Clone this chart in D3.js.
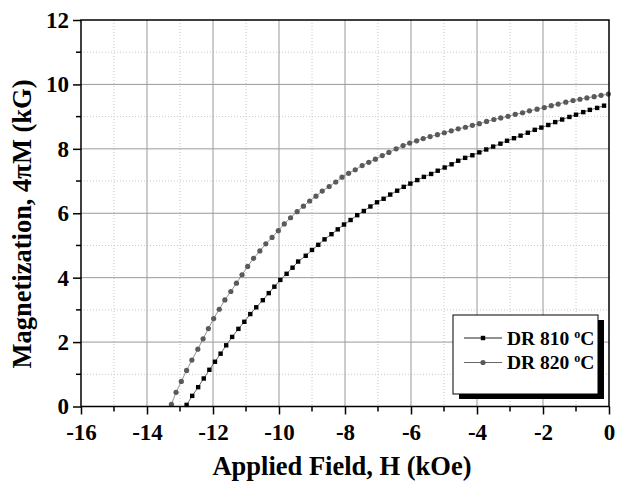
<!DOCTYPE html>
<html>
<head>
<meta charset="utf-8">
<script src="https://cdn.jsdelivr.net/npm/d3@7"></script>
<style>
  body { margin: 0; background: #fff; }
  svg { display: block; font-family: "Liberation Serif", "Times New Roman", serif; }
  svg text { font-weight: bold; }
</style>
</head>
<body>
<svg id="chart"></svg>
<script>
// DR 810 C (squares)
const h810 = [-12.80,-12.63,-12.45,-12.28,-12.11,-11.94,-11.77,-11.60,-11.42,-11.23,-11.05,-10.87,-10.69,-10.49,-10.31,-10.14,-9.96,-9.77,-9.59,-9.42,-9.19,-9.00,-8.81,-8.62,-8.41,-8.22,-8.03,-7.83,-7.63,-7.43,-7.23,-7.03,-6.83,-6.63,-6.42,-6.22,-6.02,-5.81,-5.61,-5.39,-5.19,-4.98,-4.77,-4.57,-4.36,-4.14,-3.93,-3.72,-3.51,-3.29,-3.09,-2.88,-2.68,-2.46,-2.25,-2.05,-1.84,-1.63,-1.42,-1.20,-1.00,-0.78,-0.58,-0.36,-0.15];
const m810 = [0.05,0.33,0.60,0.87,1.14,1.39,1.64,1.90,2.16,2.41,2.63,2.87,3.08,3.30,3.52,3.72,3.93,4.12,4.31,4.50,4.68,4.86,5.02,5.19,5.35,5.50,5.65,5.79,5.94,6.07,6.21,6.34,6.45,6.58,6.70,6.82,6.92,7.03,7.13,7.22,7.32,7.42,7.52,7.63,7.72,7.80,7.89,7.98,8.07,8.16,8.25,8.33,8.41,8.50,8.59,8.66,8.74,8.83,8.91,8.99,9.06,9.14,9.21,9.27,9.34];

// DR 820 C (circles)
const h820 = [-13.26,-13.12,-12.96,-12.80,-12.64,-12.46,-12.30,-12.14,-11.98,-11.81,-11.64,-11.46,-11.29,-11.12,-10.95,-10.77,-10.58,-10.40,-10.21,-10.02,-9.84,-9.65,-9.45,-9.26,-9.07,-8.88,-8.69,-8.48,-8.28,-8.09,-7.89,-7.69,-7.48,-7.28,-7.08,-6.87,-6.67,-6.45,-6.24,-6.04,-5.83,-5.63,-5.42,-5.20,-4.99,-4.78,-4.57,-4.35,-4.14,-3.93,-3.71,-3.49,-3.28,-3.06,-2.84,-2.62,-2.41,-2.18,-1.96,-1.75,-1.54,-1.31,-1.09,-0.88,-0.67,-0.45,-0.24,-0.02];
const m820 = [0.07,0.44,0.78,1.12,1.44,1.78,2.10,2.42,2.73,3.02,3.31,3.57,3.83,4.09,4.35,4.60,4.83,5.05,5.25,5.46,5.67,5.86,6.05,6.22,6.38,6.53,6.69,6.83,6.97,7.12,7.24,7.35,7.48,7.58,7.68,7.79,7.89,8.00,8.10,8.18,8.25,8.32,8.38,8.44,8.50,8.56,8.62,8.67,8.73,8.78,8.85,8.91,8.96,9.01,9.07,9.12,9.18,9.23,9.28,9.34,9.39,9.45,9.50,9.54,9.58,9.62,9.66,9.70];

const xTicks = [-16,-14,-12,-10,-8,-6,-4,-2,0];
const yTicks = [0,2,4,6,8,10,12];
const seriesNames = ['DR 810', 'DR 820'];

class MagChart {

  constructor(_config) {
    this.config = {
      parentElement: _config.parentElement,
      containerWidth: _config.containerWidth || 618,
      containerHeight: _config.containerHeight || 486,
      margin: { top: 20, bottom: 79.5, right: 9, left: 81 }
    }
    this.initVis();
  }

  initVis() {
    let vis = this;

    vis.width = vis.config.containerWidth - vis.config.margin.left - vis.config.margin.right;
    vis.height = vis.config.containerHeight - vis.config.margin.top - vis.config.margin.bottom;

    vis.svg = d3.select(vis.config.parentElement)
      .attr('width', vis.config.containerWidth)
      .attr('height', vis.config.containerHeight);

    vis.chart = vis.svg.append('g')
      .attr('transform', `translate(${vis.config.margin.left}, ${vis.config.margin.top})`);

    vis.xScale = d3.scaleLinear().domain([-16, 0]).range([0, vis.width]);
    vis.yScale = d3.scaleLinear().domain([0, 12]).range([vis.height, 0]);

    vis.renderGrid();
    vis.renderSeries();
    vis.renderAxes();
    vis.renderLegend();
  }

  renderGrid() {
    let vis = this;
    const minorX = d3.range(-15, 0, 2);
    const minorY = d3.range(1, 12, 2);

    // dotted minor grid
    vis.chart.append('g').selectAll('line').data(minorX).join('line')
      .attr('x1', d => vis.xScale(d)).attr('x2', d => vis.xScale(d))
      .attr('y1', 0).attr('y2', vis.height)
      .attr('stroke', '#c8c8c8').attr('stroke-width', 1).attr('stroke-dasharray', '1,2');
    vis.chart.append('g').selectAll('line').data(minorY).join('line')
      .attr('y1', d => vis.yScale(d)).attr('y2', d => vis.yScale(d))
      .attr('x1', 0).attr('x2', vis.width)
      .attr('stroke', '#c8c8c8').attr('stroke-width', 1).attr('stroke-dasharray', '1,2');

    // solid major grid
    vis.chart.append('g').selectAll('line').data(xTicks.slice(1, -1)).join('line')
      .attr('x1', d => vis.xScale(d)).attr('x2', d => vis.xScale(d))
      .attr('y1', 0).attr('y2', vis.height)
      .attr('stroke', '#9a9a9a').attr('stroke-width', 1);
    vis.chart.append('g').selectAll('line').data(yTicks.slice(1, -1)).join('line')
      .attr('y1', d => vis.yScale(d)).attr('y2', d => vis.yScale(d))
      .attr('x1', 0).attr('x2', vis.width)
      .attr('stroke', '#9a9a9a').attr('stroke-width', 1);
  }

  renderSeries() {
    let vis = this;
    const d810 = h810.map((h, i) => ({ h: h, m: m810[i] }));
    const d820 = h820.map((h, i) => ({ h: h, m: m820[i] }));

    const line = d3.line().x(d => vis.xScale(d.h)).y(d => vis.yScale(d.m));

    vis.chart.append('path').datum(d810)
      .attr('d', line).attr('fill', 'none').attr('stroke', '#444').attr('stroke-width', 0.8);
    vis.chart.append('path').datum(d820)
      .attr('d', line).attr('fill', 'none').attr('stroke', '#777').attr('stroke-width', 0.8);

    vis.chart.append('g').selectAll('rect').data(d810).join('rect')
      .attr('x', d => vis.xScale(d.h) - 2.2)
      .attr('y', d => vis.yScale(d.m) - 2.2)
      .attr('width', 4.4).attr('height', 4.4)
      .attr('fill', '#000');

    vis.chart.append('g').selectAll('circle').data(d820).join('circle')
      .attr('cx', d => vis.xScale(d.h))
      .attr('cy', d => vis.yScale(d.m))
      .attr('r', 2.6)
      .attr('fill', '#5a5a5a');
  }

  renderAxes() {
    let vis = this;

    vis.xAxis = d3.axisBottom(vis.xScale).tickValues(xTicks).tickFormat(d => String(d))
      .tickSize(8).tickPadding(9).tickSizeOuter(0);
    vis.yAxis = d3.axisLeft(vis.yScale).tickValues(yTicks).tickFormat(d => String(d))
      .tickSize(8).tickPadding(4).tickSizeOuter(0);

    const xg = vis.chart.append('g')
      .attr('transform', `translate(0, ${vis.height})`)
      .call(vis.xAxis);
    const yg = vis.chart.append('g').call(vis.yAxis);

    [xg, yg].forEach(g => {
      g.select('.domain').remove();
      g.selectAll('line').attr('stroke', '#000').attr('stroke-width', 1.5);
      g.selectAll('text')
        .attr('fill', '#000')
        .attr('font-size', 23)
        .attr('font-family', '"Liberation Serif", serif');
    });

    // minor ticks
    vis.chart.append('g').selectAll('line').data(d3.range(-15, 0, 2)).join('line')
      .attr('x1', d => vis.xScale(d)).attr('x2', d => vis.xScale(d))
      .attr('y1', vis.height).attr('y2', vis.height + 5)
      .attr('stroke', '#000').attr('stroke-width', 1.5);
    vis.chart.append('g').selectAll('line').data(d3.range(1, 12, 2)).join('line')
      .attr('y1', d => vis.yScale(d)).attr('y2', d => vis.yScale(d))
      .attr('x1', 0).attr('x2', -5)
      .attr('stroke', '#000').attr('stroke-width', 1.5);

    // frame
    vis.chart.append('rect')
      .attr('width', vis.width).attr('height', vis.height)
      .attr('fill', 'none').attr('stroke', '#000').attr('stroke-width', 1.5);

    // axis titles
    vis.svg.append('text')
      .attr('x', 342)
      .attr('y', 475)
      .attr('text-anchor', 'middle')
      .attr('font-size', 26.5)
      .text('Applied Field, H (kOe)');

    vis.svg.append('text')
      .attr('transform', `translate(31, 224) rotate(-90)`)
      .attr('text-anchor', 'middle')
      .attr('font-size', 26.5)
      .text('Magnetization, 4\u03C0M (kG)');
  }

  renderLegend() {
    let vis = this;
    const lx = 453 - vis.config.margin.left;
    const ly = 315 - vis.config.margin.top;
    const lw = 145, lh = 79;

    const lg = vis.chart.append('g').attr('transform', `translate(${lx}, ${ly})`);
    lg.append('rect').attr('x', 6).attr('y', 5).attr('width', lw).attr('height', lh).attr('fill', '#000');
    lg.append('rect').attr('width', lw).attr('height', lh)
      .attr('fill', '#fff').attr('stroke', '#000').attr('stroke-width', 1);

    seriesNames.forEach((name, i) => {
      const y = 23 + i * 24.5;
      const row = lg.append('g').attr('transform', `translate(0, ${y})`);
      row.append('line').attr('x1', 11).attr('x2', 49).attr('y1', 0).attr('y2', 0)
        .attr('stroke', i === 0 ? '#222' : '#666').attr('stroke-width', 1);
      if (i === 0) {
        row.append('rect').attr('x', 27.8).attr('y', -2.2).attr('width', 4.4).attr('height', 4.4).attr('fill', '#000');
      } else {
        row.append('circle').attr('cx', 30).attr('cy', 0).attr('r', 2.6).attr('fill', '#5a5a5a');
      }
      const t = row.append('text').attr('x', 54).attr('y', 6.5)
        .attr('font-size', 19.5).attr('fill', '#000');
      t.append('tspan').text(name + ' ');
      t.append('tspan').attr('font-size', 12).attr('dy', -7).text('o');
      t.append('tspan').attr('dy', 7).text('C');
    });
  }
}

new MagChart({ parentElement: '#chart' });
</script>
</body>
</html>
